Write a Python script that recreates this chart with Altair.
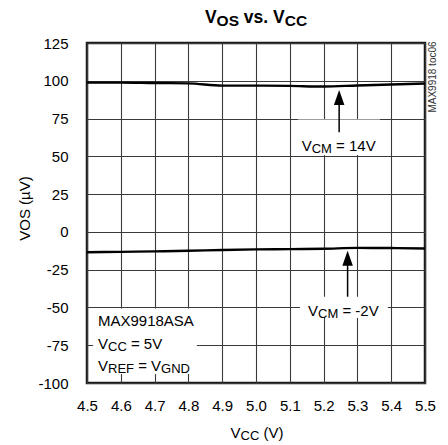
import altair as alt
import pandas as pd

# ---------------- data ----------------
vcc = [4.5, 4.6, 4.7, 4.8, 4.9, 5.0, 5.1, 5.2, 5.3, 5.4, 5.5]
vos_vcm_14 = [98.8, 98.8, 98.5, 98.3, 96.8, 96.8, 96.6, 96.2, 96.9, 97.5, 98.2]
vos_vcm_m2 = [-13.5, -13.2, -12.9, -12.5, -12.0, -11.6, -11.4, -11.2, -10.6, -10.7, -11.0]
series_names = ["VCM = 14V", "VCM = -2V"]

x_ticks = [4.5, 4.6, 4.7, 4.8, 4.9, 5.0, 5.1, 5.2, 5.3, 5.4, 5.5]
y_ticks = [-100, -75, -50, -25, 0, 25, 50, 75, 100, 125]

title_parts = [("V", 17.5, 0), ("OS", 15.5, 3), (" vs. V", 17.5, 0), ("CC", 15.5, 3)]
xtitle_parts = [("V", 15, 0), ("CC", 13, 2), (" (V)", 15, 0)]
ytitle = "VOS (µV)"
label14_parts = [("V", 15, 0), ("CM", 13, 2), (" = 14V", 15, 0)]
labelm2_parts = [("V", 15, 0), ("CM", 13, 2), (" = -2V", 15, 0)]
box_lines = [
    [("MAX9918ASA", 15, 0)],
    [("V", 15, 0), ("CC", 13, 2), (" = 5V", 15, 0)],
    [("V", 15, 0), ("REF", 13, 2), (" = V", 15, 0), ("GND", 13, 2)],
]
side_note = "MAX9918 toc06"

FONT = "Liberation Sans, Arial, sans-serif"

REG = {' ': 278, '(': 333, ')': 333, '-': 333, '.': 278, '=': 584, 'A': 667, 'C': 722,
       'D': 722, 'E': 667, 'F': 611, 'G': 778, 'M': 833, 'N': 722, 'O': 778, 'R': 722,
       'S': 667, 'V': 667, 'X': 667, 'v': 500, 's': 500, 't': 278, 'o': 556, 'c': 500,
       'µ': 576}
BOLD = {' ': 278, '.': 278, 'V': 667, 'O': 778, 'S': 667, 'C': 722, 'v': 556, 's': 556}


def tw(s, size, bold=False):
    table = BOLD if bold else REG
    return sum(table.get(c, 556) for c in s) * size / 1000.0


ONE = alt.InlineData(values=[{"a": 1}])


def rich(parts, x, y, pixel=False, center=False, bold=False):
    total = sum(tw(t, s, bold) for t, s, _ in parts)
    off = -total / 2 if center else 0.0
    layers = []
    for t, s, dy in parts:
        stripped = t.lstrip(" ")
        off += tw(t[: len(t) - len(stripped)], s, bold)
        enc = dict(
            x=alt.value(x) if pixel else alt.datum(x),
            y=alt.value(y) if pixel else alt.datum(y),
        )
        layers.append(
            alt.Chart(ONE).mark_text(
                text=stripped, align="left", baseline="alphabetic", dx=off, dy=dy,
                fontSize=s, font=FONT, fontWeight="bold" if bold else "normal",
                color="black",
            ).encode(**enc)
        )
        off += tw(stripped, s, bold)
    return layers


# ---------------- curves ----------------
rows = []
for name, vals in zip(series_names, [vos_vcm_14, vos_vcm_m2]):
    for xv, yv in zip(vcc, vals):
        rows.append({"series": name, "vcc": xv, "vos": yv})
df = pd.DataFrame(rows)

xscale = alt.Scale(domain=[4.5, 5.5], nice=False, zero=False)
yscale = alt.Scale(domain=[-100, 125], nice=False, zero=False)

curves = alt.Chart(df).mark_line(color="black", strokeWidth=2.4, interpolate="monotone").encode(
    x=alt.X("vcc:Q", scale=xscale,
            axis=alt.Axis(values=x_ticks, tickCount=30, format=".1f", title=None,
                          labelPadding=15, ticks=False, domain=False, grid=True,
                          labelFlush=False, labelOverlap=False)),
    y=alt.Y("vos:Q", scale=yscale,
            axis=alt.Axis(values=y_ticks, tickCount=30, title=ytitle, labelPadding=19,
                          ticks=False, domain=False, grid=True, titleX=-63, titleY=165,
                          titleAngle=270, titleAlign="center", titleBaseline="middle",
                          labelOverlap=False, labelFlush=False,
                          labelExpr="replace(datum.label, '\u2212', '-')")),
    detail="series:N",
)


def box(x1, x2, y1, y2):
    return alt.Chart(ONE).mark_rect(fill="white", stroke=None).encode(
        x=alt.datum(x1), x2=alt.datum(x2), y=alt.datum(y1), y2=alt.datum(y2))


def arrow(x, y_from, y_tip):
    head_len = 15 / (340 / 225.0)
    shaft = alt.Chart(ONE).mark_rule(color="black", strokeWidth=1.5).encode(
        x=alt.datum(x), y=alt.datum(y_from), y2=alt.datum(y_tip - head_len + 1))
    head = alt.Chart(ONE).mark_point(
        shape="M0,0L0.7,2L-0.7,2Z", size=225, filled=True, color="black", opacity=1,
        strokeWidth=0).encode(x=alt.datum(x), y=alt.datum(y_tip))
    return [shaft, head]


layers = [
    box(5.124, 5.367, 50.8, 74.3),
    box(5.13, 5.39, -43.0, -57.0),
    box(4.518, 4.825, -50.7, -94.0),
    curves,
]
layers += arrow(5.246, 66.0, 93.9)
layers += arrow(5.271, -42.9, -12.4)
layers += rich(label14_parts, 5.135, 53.6)
layers += rich(labelm2_parts, 5.154, -55.6)
for parts, yb in zip(box_lines, [-62.3, -77.7, -92.0]):
    layers += rich(parts, 4.5325, yb)
layers += rich(title_parts, 169, -20.0, pixel=True, center=True, bold=True)
layers += rich(xtitle_parts, 170, 395.0, pixel=True, center=True)
layers.append(
    alt.Chart(ONE).mark_text(text=side_note, angle=270, align="center", baseline="middle",
                             fontSize=10, font=FONT, color="#333").encode(
        x=alt.value(346), y=alt.value(34))
)

chart = alt.layer(*layers).properties(
    width=338, height=340,
    padding={"left": 79, "top": 35, "right": 15, "bottom": 62},
    autosize=alt.AutoSizeParams(type="none"),
).configure_view(
    stroke="#1a1a1a", strokeWidth=2.5
).configure_axis(
    labelFont=FONT, labelFontSize=15, labelColor="black",
    titleFont=FONT, titleFontSize=15, titleFontWeight="normal", titleColor="black",
    gridColor="#3a3a3a", gridWidth=1.1, gridOpacity=1,
)

chart.save("out.html", embed_options={"renderer": "svg", "actions": False})
